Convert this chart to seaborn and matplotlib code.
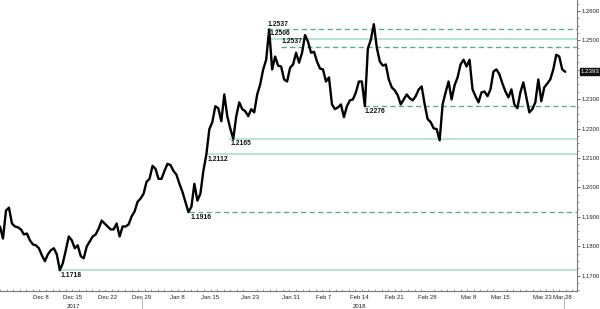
import numpy as np
import pandas as pd
import matplotlib
matplotlib.use("Agg")
import matplotlib.pyplot as plt
import matplotlib.transforms as mtransforms
from matplotlib.ticker import MultipleLocator
import seaborn as sns

# ---- data (EUR/USD, sampled at regular session steps) ----
prices = [
    1.1867, 1.1826, 1.1921, 1.1931, 1.1877, 1.1867, 1.1864, 1.1857, 1.1840, 1.1843,
    1.1820, 1.1806, 1.1803, 1.1793, 1.1769, 1.1749, 1.1772, 1.1786, 1.1793, 1.1772,
    1.1718, 1.1742, 1.1786, 1.1833, 1.1820, 1.1793, 1.1803, 1.1766, 1.1759, 1.1799,
    1.1816, 1.1833, 1.1840, 1.1860, 1.1887, 1.1877, 1.1867, 1.1857, 1.1857, 1.1877,
    1.1833, 1.1867, 1.1867, 1.1874, 1.1901, 1.1918, 1.1951, 1.1962, 1.1978, 1.2019,
    1.2029, 1.2073, 1.2063, 1.2029, 1.2029, 1.2056, 1.2080, 1.2076, 1.2056, 1.2043,
    1.2012, 1.1985, 1.1951, 1.1916, 1.1934, 1.2012, 1.1955, 1.1978, 1.2056, 1.2112,
    1.2198, 1.2222, 1.2276, 1.2269, 1.2225, 1.2316, 1.2242, 1.2200, 1.2165, 1.2242,
    1.2289, 1.2266, 1.2259, 1.2242, 1.2266, 1.2255, 1.2316, 1.2350, 1.2401, 1.2434,
    1.2537, 1.2401, 1.2445, 1.2414, 1.2411, 1.2367, 1.2360, 1.2407, 1.2418, 1.2458,
    1.2424, 1.2458, 1.2518, 1.2495, 1.2458, 1.2461, 1.2428, 1.2404, 1.2401, 1.2360,
    1.2374, 1.2282, 1.2266, 1.2272, 1.2282, 1.2239, 1.2276, 1.2296, 1.2299, 1.2323,
    1.2360, 1.2360, 1.2276, 1.2472, 1.2502, 1.2555, 1.2475, 1.2428, 1.2414, 1.2418,
    1.2367, 1.2340, 1.2330, 1.2313, 1.2282, 1.2299, 1.2316, 1.2303, 1.2296, 1.2310,
    1.2333, 1.2343, 1.2282, 1.2232, 1.2222, 1.2201, 1.2198, 1.2160, 1.2282, 1.2323,
    1.2360, 1.2299, 1.2347, 1.2374, 1.2418, 1.2434, 1.2411, 1.2434, 1.2333, 1.2310,
    1.2289, 1.2323, 1.2326, 1.2310, 1.2333, 1.2394, 1.2401, 1.2384, 1.2353, 1.2326,
    1.2306, 1.2333, 1.2282, 1.2269, 1.2323, 1.2357, 1.2306, 1.2255, 1.2266, 1.2289,
    1.2367, 1.2293, 1.2340, 1.2353, 1.2367, 1.2401, 1.2451, 1.2445, 1.2401, 1.2393,
]
session = list(range(len(prices)))

date_labels = ["Dec 8", "Dec 15", "Dec 22", "Dec 29", "Jan 8", "Jan 15", "Jan 23",
               "Jan 31", "Feb 7", "Feb 14", "Feb 21", "Feb 28", "Mar 8", "Mar 15",
               "Mar 23", "Mar 28"]
date_pos = [13.7, 24.4, 36.1, 47.3, 59.2, 70.3, 83.6, 97.2, 108.3, 120.3, 131.9,
            143.0, 156.6, 167.2, 181.2, 188.0]
year_labels = ["2017", "2018"]
year_pos = [24.4, 120.3]

# support / resistance levels
level_values = [1.2537, 1.2506, 1.2477, 1.2276, 1.2165, 1.2112, 1.1916, 1.1718]
level_texts = ["1.2537", "1.2506", "1.2537", "1.2276", "1.2165", "1.2112", "1.1916", "1.1718"]
level_dashed = [True, False, True, True, False, False, True, False]
level_start = [89.3, 90.0, 94.0, 121.7, 76.7, 69.0, 63.3, 20.0]
level_above = [True, True, True, False, False, False, False, False]

ytick_vals = [1.17, 1.18, 1.19, 1.20, 1.21, 1.22, 1.23, 1.25, 1.26]
last_price = prices[-1]

# ---- figure ----
sns.set_theme(style="white")
plt.rcParams["font.family"] = ["Liberation Sans", "DejaVu Sans"]

fig = plt.figure(figsize=(6.0, 3.09), dpi=100)
ax = fig.add_axes([0.0, 0.058, 0.962, 0.942])

df = pd.DataFrame({"session": session, "price": prices})
sns.lineplot(data=df, x="session", y="price", ax=ax, color="black", linewidth=1.7)

x_end = 193
ax.set_xlim(0, x_end)
ax.set_ylim(1.16473, 1.26372)

for val, txt, dash, start, above in zip(level_values, level_texts, level_dashed,
                                        level_start, level_above):
    if dash:
        ax.plot([start, x_end], [val, val], color="#4fae98", lw=0.95,
                linestyle=(0, (4, 2.5)), zorder=1)
    else:
        ax.plot([start, x_end], [val, val], color="#a6dccd", lw=1.1, zorder=1)
    if above:
        ax.text(start, val + 0.0006, txt, fontsize=4.9, fontweight="bold",
                ha="left", va="bottom", color="#111111")
    else:
        ax.text(start + 0.3, val - 0.0005, txt, fontsize=4.9, fontweight="bold",
                ha="left", va="top", color="#111111")

# spines
for s in ["left", "top"]:
    ax.spines[s].set_visible(False)
ax.spines["right"].set_color("#777777")
ax.spines["bottom"].set_color("#777777")
ax.spines["right"].set_linewidth(0.8)
ax.spines["bottom"].set_linewidth(0.8)

# y axis on right
ax.yaxis.tick_right()
ax.yaxis.set_label_position("right")
ax.set_yticks(ytick_vals)
ax.set_yticklabels([f"{v:.4f}" for v in ytick_vals])
ax.yaxis.set_minor_locator(MultipleLocator(0.0025))
ax.tick_params(axis="y", which="major", direction="out", length=2.0, width=0.6,
               colors="#555555", labelsize=4.2, labelcolor="#222222", pad=0.8)
ax.tick_params(axis="y", which="minor", direction="out", length=1.3, width=0.5,
               colors="#777777", right=True, left=False)

# x axis
ax.set_xticks(date_pos)
ax.set_xticklabels(date_labels)
ax.xaxis.set_minor_locator(MultipleLocator(2.2))
ax.tick_params(axis="x", which="major", direction="out", length=1.5, width=0.5,
               colors="#777777", labelsize=4.3, labelcolor="#222222", pad=1.2)
ax.tick_params(axis="x", which="minor", direction="in", length=1.5, width=0.5,
               colors="#777777", bottom=True)
ax.set_xlabel("")
ax.set_ylabel("")

trans = mtransforms.blended_transform_factory(ax.transData, ax.transAxes)
for yl, yp in zip(year_labels, year_pos):
    ax.text(yp, -0.043, yl, transform=trans, fontsize=4.3, ha="center", va="top",
            color="#222222")
for xp in [47.5, 188.5]:
    ax.plot([xp, xp], [-0.02, -0.062], transform=trans, color="#bbbbbb", lw=0.8,
            clip_on=False)

# last price box
ax.text(1.006, last_price, f"{last_price:.4f}",
        transform=mtransforms.blended_transform_factory(ax.transAxes, ax.transData),
        fontsize=4.4, color="white", ha="left", va="center",
        bbox=dict(boxstyle="square,pad=0.15", fc="#111111", ec="#111111"))

fig.savefig("out.png", dpi=100, facecolor="white")
